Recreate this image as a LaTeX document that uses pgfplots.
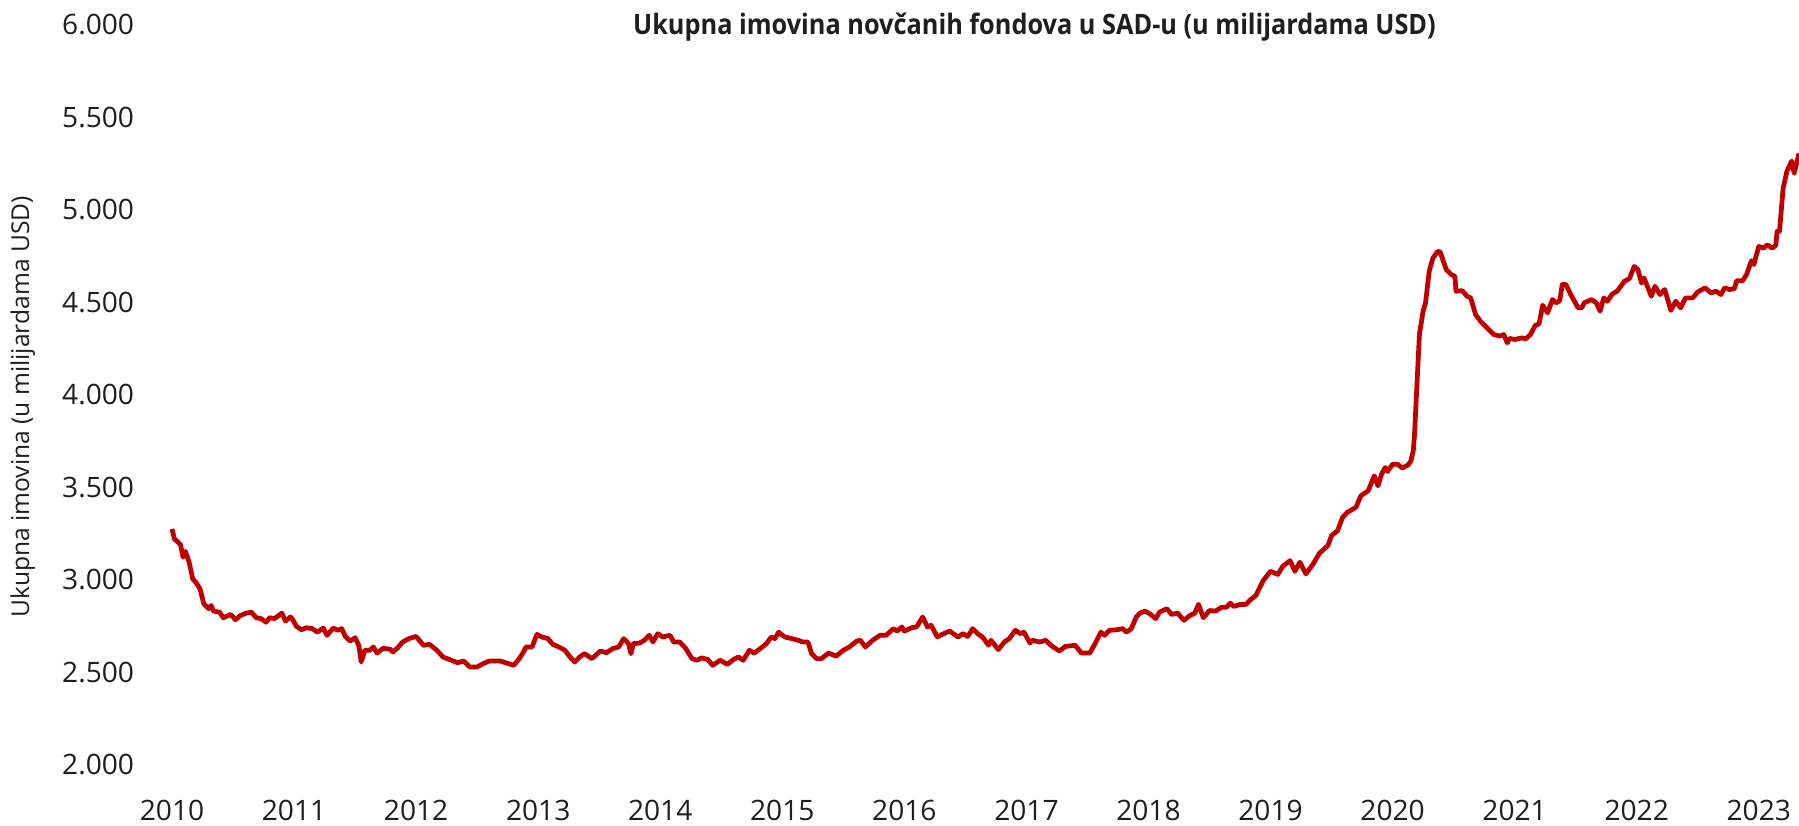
\documentclass[border=0pt]{standalone}
\usepackage{fontspec}
\setmainfont{Open Sans}
\newfontfamily\titlefont[FakeStretch=0.9]{Open Sans}
\usepackage{pgfplots}
\pgfplotsset{compat=1.18}
\definecolor{linered}{RGB}{192,0,0}
\definecolor{txt}{RGB}{30,30,30}
\begin{document}
\begin{tikzpicture}
\begin{axis}[
  scale only axis,
  width=163.92mm, height=74mm,
  xmin=2009.9, xmax=2023.33,
  ymin=2000, ymax=6000,
  axis line style={draw=none},
  major tick length=0pt,
  xtick={2010,2011,2012,2013,2014,2015,2016,2017,2018,2019,2020,2021,2022,2023},
  xticklabels={2010,2011,2012,2013,2014,2015,2016,2017,2018,2019,2020,2021,2022,2023},
  ytick={2000,2500,3000,3500,4000,4500,5000,5500,6000},
  yticklabels={2.000,2.500,3.000,3.500,4.000,4.500,5.000,5.500,6.000},
  tick label style={font=\fontsize{8}{9.6}\selectfont, text=txt},
  xticklabel style={yshift=-6.4pt},
  yticklabel style={xshift=-3.8pt},
  grid=none,
  clip=false,
]
\addplot[color=linered, line width=1.35pt, line join=round, mark=none] coordinates {
(2010.00,3276) (2010.02,3222) (2010.07,3191) (2010.09,3123) (2010.11,3155) (2010.14,3096)
(2010.17,3006) (2010.20,2983) (2010.23,2952) (2010.26,2872) (2010.30,2845) (2010.32,2862)
(2010.34,2832) (2010.39,2826) (2010.42,2796) (2010.48,2814) (2010.52,2785) (2010.56,2808)
(2010.61,2821) (2010.65,2826) (2010.69,2796) (2010.73,2791) (2010.77,2772) (2010.80,2796)
(2010.84,2791) (2010.90,2821) (2010.93,2778) (2010.97,2800) (2010.99,2785) (2011.02,2749)
(2011.06,2731) (2011.10,2742) (2011.15,2737) (2011.19,2718) (2011.24,2740) (2011.27,2701)
(2011.32,2740) (2011.36,2728) (2011.39,2737) (2011.42,2695) (2011.46,2670) (2011.50,2688)
(2011.53,2647) (2011.55,2557) (2011.58,2620) (2011.62,2620) (2011.65,2638) (2011.68,2605)
(2011.73,2631) (2011.79,2625) (2011.81,2611) (2011.85,2634) (2011.89,2665) (2011.94,2683)
(2012.00,2695) (2012.06,2647) (2012.11,2652) (2012.17,2620) (2012.22,2584) (2012.29,2566)
(2012.34,2553) (2012.39,2562) (2012.44,2530) (2012.50,2530) (2012.55,2548) (2012.60,2562)
(2012.69,2562) (2012.74,2551) (2012.80,2539) (2012.84,2570) (2012.88,2611) (2012.90,2638)
(2012.95,2638) (2012.99,2706) (2013.03,2692) (2013.08,2683) (2013.12,2652) (2013.16,2641)
(2013.22,2620) (2013.26,2584) (2013.30,2557) (2013.34,2584) (2013.38,2602) (2013.44,2575)
(2013.51,2616) (2013.56,2607) (2013.61,2629) (2013.66,2638) (2013.70,2683) (2013.74,2656)
(2013.76,2602) (2013.78,2656) (2013.83,2659) (2013.87,2674) (2013.91,2701) (2013.94,2665)
(2013.98,2710) (2014.02,2692) (2014.08,2701) (2014.11,2665) (2014.16,2665) (2014.21,2629)
(2014.26,2575) (2014.30,2566) (2014.34,2579) (2014.39,2570) (2014.43,2539) (2014.49,2566)
(2014.55,2544) (2014.60,2570) (2014.64,2584) (2014.68,2566) (2014.73,2620) (2014.77,2605)
(2014.82,2629) (2014.87,2656) (2014.91,2692) (2014.94,2683) (2014.97,2718) (2015.02,2692)
(2015.08,2683) (2015.13,2674) (2015.17,2665) (2015.21,2665) (2015.24,2602) (2015.28,2575)
(2015.32,2575) (2015.38,2605) (2015.44,2588) (2015.50,2620) (2015.55,2638) (2015.61,2670)
(2015.64,2674) (2015.68,2638) (2015.74,2674) (2015.80,2701) (2015.85,2701) (2015.91,2737)
(2015.94,2724) (2015.98,2746) (2016.00,2724) (2016.06,2742) (2016.10,2746) (2016.15,2800)
(2016.19,2746) (2016.22,2755) (2016.27,2692) (2016.31,2706) (2016.37,2724) (2016.44,2692)
(2016.48,2710) (2016.52,2695) (2016.56,2737) (2016.60,2710) (2016.64,2692) (2016.69,2647)
(2016.71,2674) (2016.77,2624) (2016.82,2665) (2016.86,2683) (2016.91,2728) (2016.95,2710)
(2016.98,2718) (2017.03,2659) (2017.05,2674) (2017.11,2665) (2017.16,2674) (2017.20,2647)
(2017.27,2616) (2017.32,2641) (2017.40,2647) (2017.45,2605) (2017.52,2605) (2017.57,2665)
(2017.61,2718) (2017.64,2701) (2017.68,2728) (2017.74,2731) (2017.79,2737) (2017.82,2718)
(2017.86,2737) (2017.90,2800) (2017.93,2821) (2017.97,2832) (2018.01,2818) (2018.06,2791)
(2018.09,2826) (2018.15,2845) (2018.19,2814) (2018.24,2821) (2018.29,2782) (2018.34,2808)
(2018.38,2821) (2018.41,2868) (2018.45,2796) (2018.50,2835) (2018.55,2832) (2018.60,2853)
(2018.64,2853) (2018.67,2875) (2018.70,2857) (2018.75,2868) (2018.80,2868) (2018.83,2890)
(2018.88,2916) (2018.94,2997) (2019.00,3047) (2019.06,3030) (2019.10,3073) (2019.16,3105)
(2019.20,3047) (2019.24,3096) (2019.29,3033) (2019.35,3087) (2019.40,3144) (2019.47,3186)
(2019.50,3240) (2019.55,3267) (2019.59,3338) (2019.63,3366) (2019.70,3393) (2019.74,3455)
(2019.80,3482) (2019.85,3563) (2019.88,3509) (2019.91,3572) (2019.94,3608) (2019.96,3587)
(2020.00,3626) (2020.04,3626) (2020.08,3605) (2020.13,3623) (2020.15,3644) (2020.17,3700)
(2020.18,3788) (2020.20,4058) (2020.22,4327) (2020.25,4453) (2020.27,4497) (2020.30,4668)
(2020.33,4740) (2020.37,4776) (2020.39,4773) (2020.44,4678) (2020.48,4651) (2020.51,4642)
(2020.52,4561) (2020.57,4564) (2020.61,4534) (2020.64,4525) (2020.68,4435) (2020.72,4399)
(2020.76,4372) (2020.83,4327) (2020.88,4318) (2020.91,4327) (2020.94,4282) (2020.96,4306)
(2021.00,4300) (2021.06,4309) (2021.09,4303) (2021.13,4327) (2021.17,4377) (2021.20,4384)
(2021.23,4485) (2021.27,4444) (2021.31,4516) (2021.34,4498) (2021.37,4510) (2021.39,4597)
(2021.42,4597) (2021.46,4543) (2021.52,4471) (2021.55,4471) (2021.57,4498) (2021.63,4516)
(2021.67,4498) (2021.70,4453) (2021.73,4525) (2021.76,4507) (2021.80,4546) (2021.84,4561)
(2021.90,4615) (2021.94,4629) (2021.98,4695) (2022.01,4678) (2022.04,4605) (2022.06,4633)
(2022.12,4534) (2022.15,4588) (2022.19,4543) (2022.23,4570) (2022.28,4457) (2022.32,4507)
(2022.36,4471) (2022.40,4525) (2022.46,4525) (2022.50,4557) (2022.56,4579) (2022.61,4552)
(2022.65,4561) (2022.69,4543) (2022.72,4579) (2022.76,4570) (2022.80,4575) (2022.82,4618)
(2022.87,4618) (2022.90,4651) (2022.94,4726) (2022.96,4705) (2023.00,4803) (2023.04,4794)
(2023.07,4812) (2023.11,4794) (2023.14,4809) (2023.15,4884) (2023.17,4884) (2023.20,5118)
(2023.23,5208) (2023.27,5265) (2023.29,5198) (2023.33,5306)
};
\end{axis}
\node[font=\titlefont\bfseries\fontsize{8}{9.6}\selectfont, text=txt, anchor=center] at (87.47mm,73.8mm) {Ukupna imovina novčanih fondova u SAD-u (u milijardama USD)};
\node[rotate=90, font=\fontsize{7.0}{8.4}\selectfont, text=txt, anchor=center] at (-13.7mm,35.8mm) {Ukupna imovina (u milijardama USD)};
\pgfresetboundingbox
\path[use as bounding box] (-15.98mm,-6.1mm) rectangle (163.92mm,76.5mm);
\end{tikzpicture}
\end{document}
